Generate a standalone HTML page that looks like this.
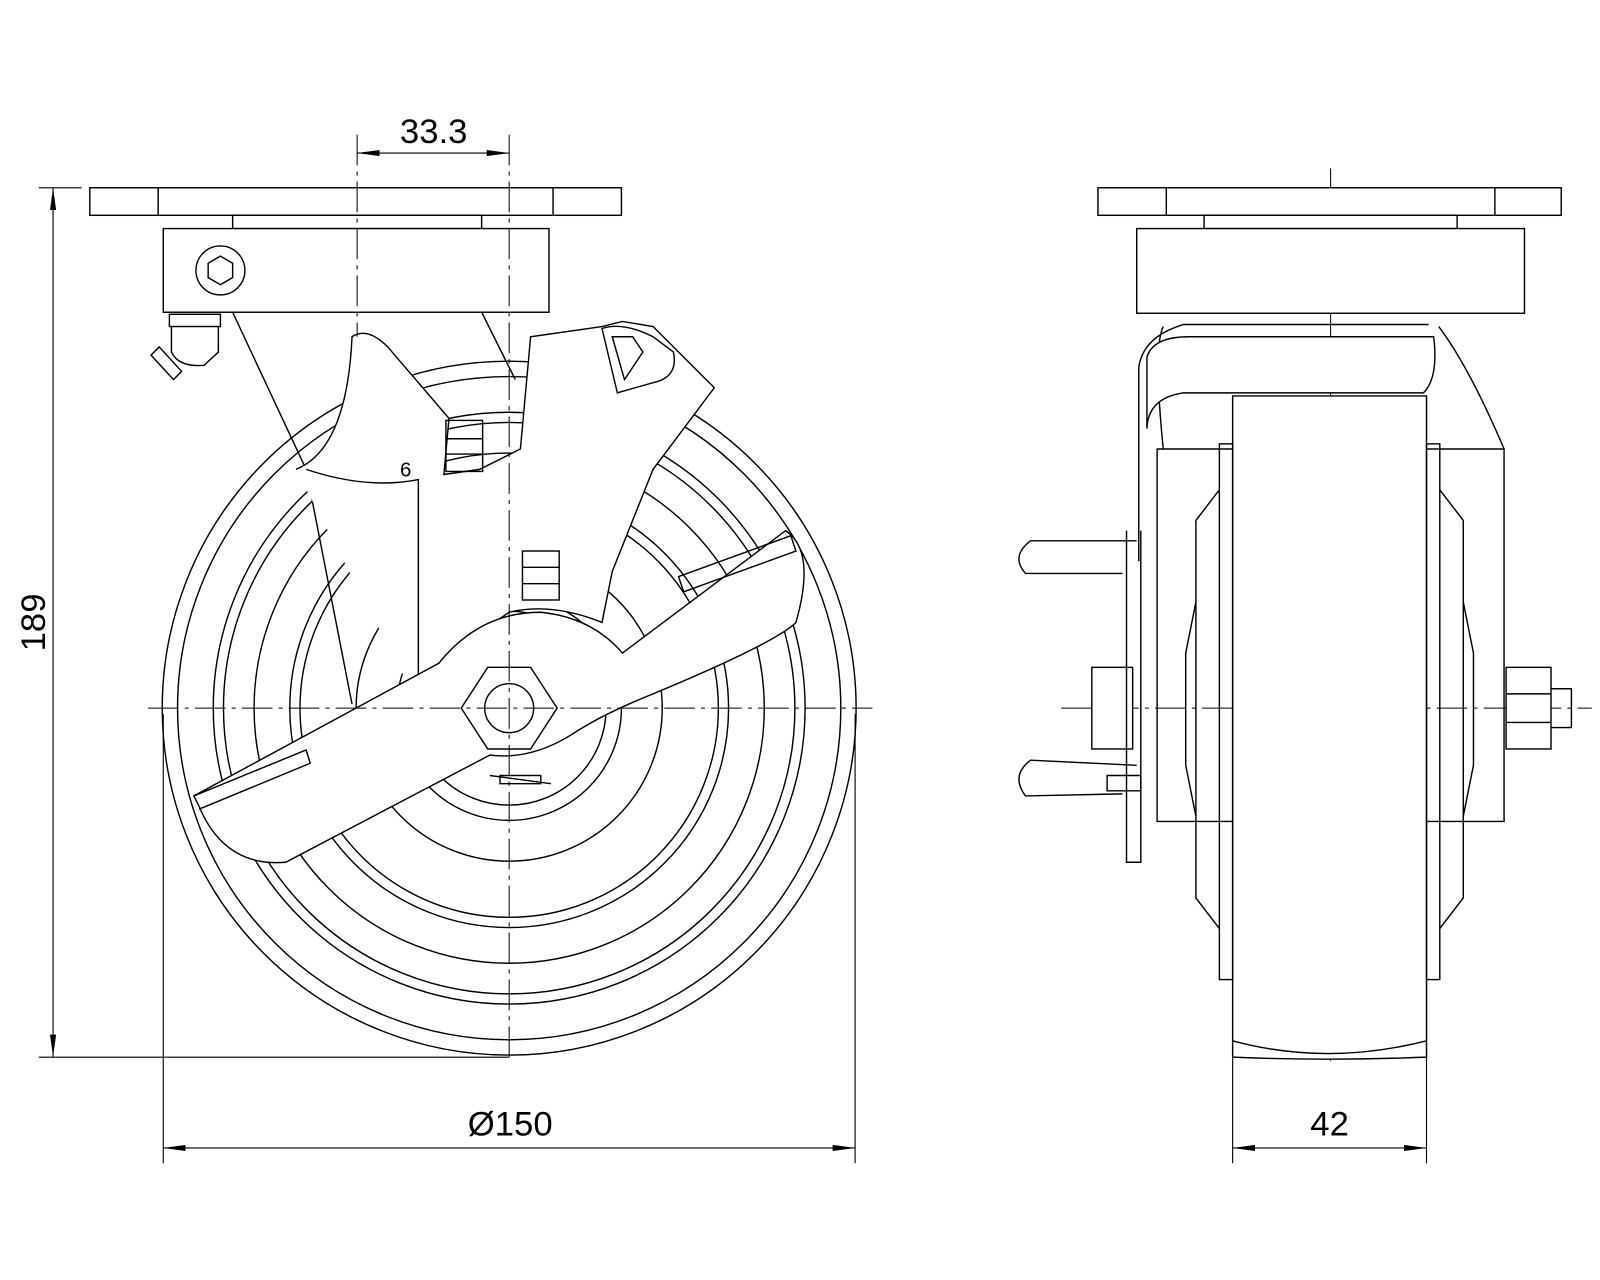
<!DOCTYPE html>
<html><head><meta charset="utf-8"><style>
html,body{margin:0;padding:0;background:#fff}
svg{display:block}
text{font-family:"Liberation Sans",sans-serif;font-size:34px;fill:#000}
text.small{font-size:20px}
</style></head><body>
<svg width="1600" height="1280" viewBox="0 0 1600 1280" xmlns="http://www.w3.org/2000/svg">
<defs>
<marker id="a" viewBox="0 0 22 6" refX="22" refY="3" markerWidth="22" markerHeight="6" orient="auto-start-reverse" markerUnits="userSpaceOnUse"><path d="M0,0 L22,3 L0,6z" fill="#000"/></marker>
</defs>
<g transform="scale(1.0204)">
<g fill="none" stroke="#000" stroke-width="1.4">
<!-- ===== LEFT VIEW ===== -->
<circle cx="499" cy="694" r="340"/>
<circle cx="499" cy="694" r="325"/>
<circle cx="499" cy="694" r="290"/>
<circle cx="499" cy="694" r="280"/>
<circle cx="499" cy="694" r="250"/>
<circle cx="499" cy="694" r="215"/>
<circle cx="499" cy="694" r="205"/>
<circle cx="499" cy="694" r="150"/>
<circle cx="499" cy="694" r="110"/>
<circle cx="499" cy="694" r="95"/>
<rect x="88" y="184" width="521" height="27" fill="#fff"/>
<line x1="155" y1="184" x2="155" y2="211"/><line x1="542" y1="184" x2="542" y2="211"/>
<rect x="228" y="211" width="244" height="13" fill="#fff"/>
<rect x="160" y="224" width="378" height="82" fill="#fff"/>
<circle cx="216" cy="265" r="24"/>
<polygon points="216,251 228,258 228,272 216,279 204,272 204,258"/>
<rect x="166" y="308" width="50" height="12" fill="#fff"/>
<path d="M168 320 L168 345 Q175 360 200 358 L214 345 L214 320"/>
<path d="M156 340 L148 348 L170 372 L178 364 Z"/>
<path d="M228 306 L300 460 L345 690 M472 306 L505 372" />
<path d="M290 460 Q340 440 345 330 Q360 320 380 340 L440 410 L435 465 L470 460 L510 440 L520 330 L590 320 L610 315 L640 320 L700 380 L640 460 L600 560 L590 610 Q540 590 499 600 L440 640 L410 690" fill="#fff"/>
<path d="M300 460 Q360 480 410 470 L410 690"/>
<path d="M590 322 Q610 315 640 330 L660 345 Q665 370 640 375 L605 385 Z" fill="#fff"/>
<path d="M600 330 L620 330 L630 345 L612 372 Z"/>
<rect x="437" y="412" width="36" height="50"/>
<line x1="437" y1="430" x2="473" y2="430"/><line x1="437" y1="445" x2="473" y2="445"/>
<rect x="512" y="540" width="36" height="48"/>
<line x1="512" y1="556" x2="548" y2="556"/><line x1="512" y1="572" x2="548" y2="572"/>
<path d="M190 780 L430 650 Q470 600 530 600 Q580 605 610 640 L770 520 Q800 540 780 610 Q760 630 640 680 Q590 700 560 720 Q520 745 480 740 L280 845 Q220 850 195 790 Z" fill="#fff"/>
<path d="M190 780 L300 735 L304 748 L195 793" />
<path d="M665 565 L775 525 L780 540 L670 580 Z"/>
<polygon points="478,654 520,654 546,694 520,734 478,734 452,694" fill="#fff"/>
<circle cx="499" cy="694" r="24"/>
<path d="M480 760 L540 768" />
<rect x="490" y="760" width="40" height="8"/>
</g>
<text class="small" x="392" y="467" stroke="none">6</text>
<g stroke="#000" stroke-width="1" stroke-dasharray="30,6,4,6" fill="none">
<line x1="350" y1="132" x2="350" y2="330"/>
<line x1="499" y1="132" x2="499" y2="1036"/>
<line x1="145" y1="694" x2="855" y2="694"/>
<line x1="1304" y1="165" x2="1304" y2="1040"/>
<line x1="1040" y1="694" x2="1560" y2="694"/>
</g>
<g fill="none" stroke="#000" stroke-width="1.4">
<!-- ===== RIGHT VIEW ===== -->
<rect x="1076" y="184" width="454" height="27" fill="#fff"/>
<line x1="1143" y1="184" x2="1143" y2="211"/><line x1="1465" y1="184" x2="1465" y2="211"/>
<rect x="1180" y="211" width="248" height="13" fill="#fff"/>
<rect x="1114" y="224" width="380" height="83" fill="#fff"/>
<path d="M1134 440 L1134 805 L1474 805 L1474 440 Z"/>
<path d="M1140 320 Q1130 340 1140 440 M1410 320 Q1440 360 1474 440"/>
<path d="M1124 350 L1124 420 Q1125 390 1160 385 L1395 385 Q1410 370 1405 330 L1165 330 Q1130 330 1124 350 Z" fill="#fff"/>
<path d="M1116 360 L1116 550 M1116 360 Q1120 330 1160 318 L1400 318"/>
<path d="M1208 388 L1398 388 L1398 1020 Q1300 1045 1208 1020 Z" fill="#fff"/>
<path d="M1208 1020 L1208 1036 Q1300 1040 1398 1036 L1398 1020"/>
<rect x="1195" y="435" width="13" height="525"/>
<rect x="1398" y="435" width="13" height="525"/>
<path d="M1195 480 L1172 510 L1172 880 L1195 910"/>
<path d="M1411 480 L1434 510 L1434 880 L1411 910"/>
<path d="M1172 590 L1162 640 L1162 750 L1172 800 M1434 590 L1444 640 L1444 750 L1434 800"/>
<rect x="1070" y="654" width="40" height="80" fill="#fff"/>
<rect x="1476" y="654" width="44" height="80" fill="#fff"/>
<line x1="1476" y1="680" x2="1520" y2="680"/><line x1="1476" y1="708" x2="1520" y2="708"/>
<path d="M1520 675 L1540 675 L1540 713 L1520 713"/>
<path d="M1114 530 L1010 530 Q990 545 1005 562 L1100 562" fill="#fff"/>
<path d="M1114 750 L1010 745 Q990 760 1005 780 L1100 778" fill="#fff"/>
<path d="M1104 520 L1104 845 L1118 845 L1118 520"/>
<path d="M1085 760 L1118 760 L1118 775 L1085 775 Z"/>
</g>
<g stroke="#000" stroke-width="1.1" fill="none">
<line x1="38" y1="184" x2="80" y2="184"/>
<line x1="38" y1="1036" x2="499" y2="1036"/>
<line x1="52" y1="184" x2="52" y2="1036" marker-start="url(#a)" marker-end="url(#a)"/>
<line x1="160" y1="700" x2="160" y2="1140"/>
<line x1="838" y1="700" x2="838" y2="1140"/>
<line x1="160" y1="1125" x2="838" y2="1125" marker-start="url(#a)" marker-end="url(#a)"/>
<line x1="350" y1="150" x2="499" y2="150" marker-start="url(#a)" marker-end="url(#a)"/>
<line x1="1208" y1="1036" x2="1208" y2="1140"/>
<line x1="1398" y1="1036" x2="1398" y2="1140"/>
<line x1="1208" y1="1125" x2="1398" y2="1125" marker-start="url(#a)" marker-end="url(#a)"/>
</g>
<text x="425" y="140" text-anchor="middle">33.3</text>
<text x="500" y="1113" text-anchor="middle">Ø150</text>
<text x="1303" y="1113" text-anchor="middle">42</text>
<text x="0" y="0" text-anchor="middle" transform="translate(44 610) rotate(-90)">189</text>
</g>
</svg>
</body></html>
